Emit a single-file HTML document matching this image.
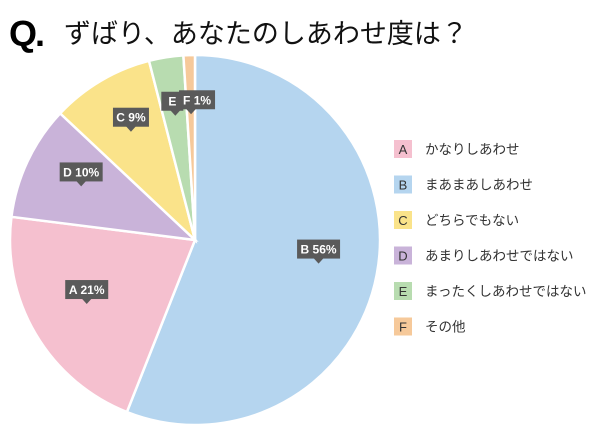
<!DOCTYPE html>
<html><head><meta charset="utf-8"><style>
body{margin:0;background:#fff;width:600px;height:434px;overflow:hidden;font-family:"Liberation Sans","Noto Sans CJK JP",sans-serif}
</style></head><body>
<svg width="600" height="434">
<text x="9" y="46" font-size="36" font-weight="bold" font-family="Liberation Sans, sans-serif" fill="#000" style="letter-spacing:-2px">Q.</text>
<text x="64" y="43" font-size="27" fill="#111" font-family="Liberation Sans, Noto Sans CJK JP, sans-serif">ずばり、あなたのしあわせ度は？</text>
<g id="slices"></g><g id="labels"></g><g id="legend"></g>
</svg>
<script>
const letters=['B','A','D','C','E','F'];
const values=[56,21,10,9,3,1];
const colors=['#b5d5ef','#f5c0cf','#c9b3d9','#fae38a','#b8dcb0','#f6c99a'];
const legendLetters=['A','B','C','D','E','F'];
const legendText=['かなりしあわせ','まあまあしあわせ','どちらでもない','あまりしあわせではない','まったくしあわせではない','その他'];
const legendColors=['#f5c0cf','#b5d5ef','#fae38a','#c9b3d9','#b8dcb0','#f6c99a'];
const NS='http://www.w3.org/2000/svg';
const cx=195,cy=240,r=185;
const total=values.reduce((a,b)=>a+b,0);
const pt=(a,rr)=>[cx+rr*Math.sin(a),cy-rr*Math.cos(a)];
let a0=0;
const sg=document.getElementById('slices'),lg=document.getElementById('labels');
values.forEach((v,i)=>{
  const a1=a0+v/total*2*Math.PI;
  const p0=pt(a0,r),p1=pt(a1,r);
  const path=document.createElementNS(NS,'path');
  path.setAttribute('d',`M${cx},${cy}L${p0[0]},${p0[1]}A${r},${r} 0 ${a1-a0>Math.PI?1:0} 1 ${p1[0]},${p1[1]}Z`);
  path.setAttribute('fill',colors[i]);path.setAttribute('stroke','#fff');path.setAttribute('stroke-width','2.5');
  
  
  sg.appendChild(path);
  const m=(a0+a1)/2,t=pt(m,r*0.68);
  const txt=letters[i]==='E'?'E':letters[i]+' '+v+'%';
  const w=letters[i]==='E'?22:txt.length*7+8;
  const bx=letters[i]==='E'?t[0]-14:(letters[i]==='F'?t[0]-12:t[0]-w/2);
  const g=document.createElementNS(NS,'g');
  
  
  g.innerHTML=`<rect x="${bx}" y="${t[1]-24}" width="${w}" height="19" fill="#5a5a5a"/><path d="M${t[0]-5},${t[1]-5.5}L${t[0]},${t[1]}L${t[0]+5},${t[1]-5.5}Z" fill="#5a5a5a"/><text x="${bx+w/2}" y="${t[1]-10}" font-size="12" font-weight="bold" fill="#fff" text-anchor="middle">${txt}</text>`;
  lg.appendChild(g);
  a0=a1;
});
const leg=document.getElementById('legend');
legendLetters.forEach((l,i)=>{
  const y=140+i*35.5;
  const g=document.createElementNS(NS,'g');
  
  
  g.innerHTML=`<rect x="394" y="${y}" width="18" height="18" fill="${legendColors[i]}"/><text x="403" y="${y+14}" font-size="13" fill="#333" text-anchor="middle">${l}</text><text x="425" y="${y+14}" font-size="13.5" fill="#333">${legendText[i]}</text>`;
  leg.appendChild(g);
});
</script>
</body></html>
